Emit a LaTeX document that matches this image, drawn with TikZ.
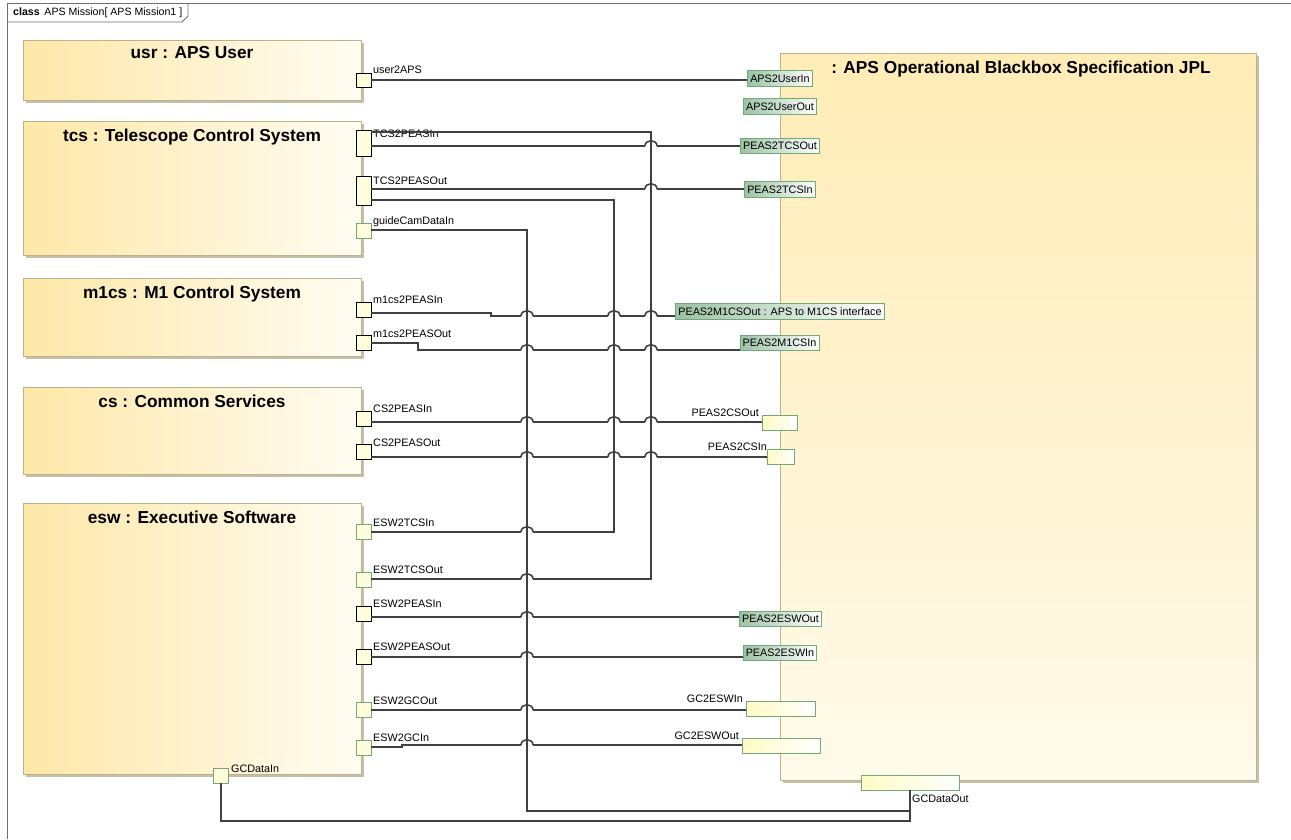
\documentclass[tikz,border=0pt]{standalone}
\usepackage{fontspec}
\setmainfont{Liberation Sans}
\usetikzlibrary{positioning, shadows}
\definecolor{boxyellow}{RGB}{254,232,168}
\definecolor{boxlight}{RGB}{255,252,242}
\definecolor{bbyellow}{RGB}{255,236,182}
\definecolor{bblight}{RGB}{255,250,234}
\definecolor{edgetan}{RGB}{188,178,140}
\definecolor{shadowtan}{RGB}{198,192,170}
\definecolor{portcream}{RGB}{255,253,218}
\definecolor{portyel}{RGB}{255,251,196}
\definecolor{portgreen}{RGB}{112,170,118}
\definecolor{tagfill}{RGB}{156,194,164}
\definecolor{wiregray}{RGB}{64,64,64}
\definecolor{framegray}{RGB}{110,110,110}

\tikzset{
  part/.style={draw=edgetan, line width=0.8pt, left color=boxyellow, right color=boxlight,
    inner sep=0pt, drop shadow={shadow xshift=3pt, shadow yshift=-3pt, fill=shadowtan, opacity=1}},
  parttitle/.style={font=\bfseries\fontsize{17.3}{20}\selectfont, inner sep=0pt},
  flowport/.style={draw=black, line width=0.8pt, fill=portcream, minimum width=15pt,
    minimum height=15pt, inner sep=0pt},
  proxyport/.style={flowport, draw=portgreen},
  boxport/.style={draw=portgreen, line width=0.8pt, left color=portyel, right color=white,
    minimum height=15pt, inner sep=0pt},
  tagport/.style={draw=portgreen, line width=0.8pt, left color=tagfill, right color=white,
    font=\fontsize{10.8}{13}\selectfont, inner xsep=2.5pt, inner ysep=0pt, minimum height=15.5pt},
  portlabel/.style={font=\fontsize{10.8}{13}\selectfont, inner sep=0pt, anchor=base west},
  rportlabel/.style={portlabel, anchor=base east},
  wire/.style={draw=wiregray, line width=1.6pt}
}

\begin{document}
\begin{tikzpicture}[x=1pt, y=-1pt]
  \useasboundingbox (0,0) rectangle (1291,839);
  % diagram frame
  \draw[framegray, line width=0.8pt] (7,839) -- (7,3) -- (1291,3);
  \draw[framegray, line width=0.8pt] (7,22) -- (182,22) -- (188,16) -- (188,3);
  \node[anchor=west, font=\fontsize{10.6}{12}\selectfont, inner sep=0pt] (tab) at (13,12.5)
    {\textbf{class}\, APS Mission[ APS Mission1 ]};

  % parts
  \node[part, minimum width=338pt, minimum height=60pt] (usr) at (192,70) {};
  \node[part, minimum width=338pt, minimum height=134pt] (tcs) at (192,188) {};
  \node[part, minimum width=338pt, minimum height=78pt] (m1cs) at (192,317) {};
  \node[part, minimum width=338pt, minimum height=87pt] (cs) at (192,430.5) {};
  \node[part, minimum width=338pt, minimum height=271pt] (esw) at (192,638.5) {};
  \node[part, top color=bbyellow, bottom color=bblight, minimum width=476pt,
    minimum height=727pt] (aps) at (1018,416.5) {};
  \node[parttitle, below=7pt of usr.north] (usrT) {usr : APS User};
  \node[parttitle, below=8pt of tcs.north] (tcsT) {tcs : Telescope Control System};
  \node[parttitle, below=8pt of m1cs.north] (m1csT) {m1cs : M1 Control System};
  \node[parttitle, below=8pt of cs.north] (csT) {cs : Common Services};
  \node[parttitle, below=8pt of esw.north] (eswT) {esw : Executive Software};
  \node[parttitle, below=8pt of aps.north, xshift=3pt] (apsT) {: APS Operational Blackbox Specification JPL};

  % ports on the left parts
  \node[flowport, minimum height=14pt] (pUser) at (363.5,80) {};
  \node[flowport, minimum height=26pt] (pTcsIn) at (363.5,143) {};
  \node[flowport, minimum height=29pt] (pTcsOut) at (363.5,190.5) {};
  \node[proxyport] (pGuide) at (363.5,231) {};
  \node[flowport] (pM1In) at (363.5,310) {};
  \node[flowport] (pM1Out) at (363.5,342.5) {};
  \node[flowport] (pCsIn) at (363.5,419) {};
  \node[flowport] (pCsOut) at (363.5,452) {};
  \node[proxyport] (pEswTcsIn) at (363.5,531.5) {};
  \node[proxyport] (pEswTcsOut) at (363.5,579.5) {};
  \node[flowport] (pEswPeasIn) at (363.5,613.5) {};
  \node[flowport] (pEswPeasOut) at (363.5,656.5) {};
  \node[proxyport] (pEswGcOut) at (363.5,710) {};
  \node[proxyport] (pEswGcIn) at (363.5,747.5) {};
  \node[proxyport] (pGcIn) at (221,775.5) {};

  \node[portlabel] (lUser) at (373,73) {user2APS};
  \node[portlabel] (lTcsIn) at (373,137) {TCS2PEASIn};
  \node[portlabel] (lTcsOut) at (373,184) {TCS2PEASOut};
  \node[portlabel] (lGuide) at (373,224) {guideCamDataIn};
  \node[portlabel] (lM1In) at (373,303) {m1cs2PEASIn};
  \node[portlabel] (lM1Out) at (373,337) {m1cs2PEASOut};
  \node[portlabel] (lCsIn) at (373,412) {CS2PEASIn};
  \node[portlabel] (lCsOut) at (373,446) {CS2PEASOut};
  \node[portlabel] (lEswTcsIn) at (373,526) {ESW2TCSIn};
  \node[portlabel] (lEswTcsOut) at (373,573) {ESW2TCSOut};
  \node[portlabel] (lEswPeasIn) at (373,607) {ESW2PEASIn};
  \node[portlabel] (lEswPeasOut) at (373,650) {ESW2PEASOut};
  \node[portlabel] (lEswGcOut) at (373,704) {ESW2GCOut};
  \node[portlabel] (lEswGcIn) at (373,741) {ESW2GCIn};
  \node[portlabel] (lGcIn) at (231,772) {GCDataIn};

  % ports on the blackbox
  \node[tagport] (qUserIn) at (780,78.5) {APS2UserIn};
  \node[tagport] (qUserOut) at (780,106.5) {APS2UserOut};
  \node[tagport] (qTcsOut) at (780,146) {PEAS2TCSOut};
  \node[tagport] (qTcsIn) at (780,189.5) {PEAS2TCSIn};
  \node[tagport] (qM1Out) at (780,311.5) {PEAS2M1CSOut : APS to M1CS interface};
  \node[tagport] (qM1In) at (779.5,343) {PEAS2M1CSIn};
  \node[boxport, minimum width=35pt] (qCsOut) at (779.5,423) {};
  \node[boxport, minimum width=27pt] (qCsIn) at (780.5,456.5) {};
  \node[tagport] (qEswOut) at (780.5,619) {PEAS2ESWOut};
  \node[tagport] (qEswIn) at (780,653) {PEAS2ESWIn};
  \node[boxport, minimum width=69pt] (qGcEswIn) at (780.5,709) {};
  \node[boxport, minimum width=78pt] (qGcEswOut) at (781,745.5) {};
  \node[boxport, minimum width=98pt] (qGcOut) at (910,782.5) {};

  \node[rportlabel] (lCsOutR) at (759,416) {PEAS2CSOut};
  \node[rportlabel] (lCsInR) at (767,450) {PEAS2CSIn};
  \node[rportlabel] (lGcEswIn) at (743,702) {GC2ESWIn};
  \node[rportlabel] (lGcEswOut) at (739,739) {GC2ESWOut};
  \node[portlabel] (lGcOut) at (912,802) {GCDataOut};

  % connectors
  \draw[wire] (pUser.east) -- (pUser.east -| qUserIn.west);
  \draw[wire] (pTcsIn.east |- 0,146) -- (qTcsOut.west |- 0,146);
  \draw[wire] (pTcsIn.east |- 0,132) -- (651,132) -- (651,579) -- (pEswTcsOut.east |- 0,579);
  \draw[wire] (pTcsOut.east |- 0,189) -- (qTcsIn.west |- 0,189);
  \draw[wire] (pTcsOut.east |- 0,200) -- (614,200) -- (614,532) -- (pEswTcsIn.east |- 0,532);
  \draw[wire] (pGuide.east |- 0,230) -| (527,811) -| (qGcOut.south);
  \draw[wire] (pGcIn.south) |- (qGcOut.south |- 0,821) -- (qGcOut.south);
  \draw[wire] (pM1In.east |- 0,313) -- (491,313) -- (491,316) -- (qM1Out.west |- 0,316);
  \draw[wire] (pM1Out.east |- 0,343) -- (418,343) -- (418,350) -- (qM1In.west |- 0,350);
  \draw[wire] (pCsIn.east |- 0,422) -- (qCsOut.west |- 0,422);
  \draw[wire] (pCsOut.east |- 0,457) -- (qCsIn.west |- 0,457);
  \draw[wire] (pEswPeasIn.east |- 0,617) -- (qEswOut.west |- 0,617);
  \draw[wire] (pEswPeasOut.east |- 0,657) -- (qEswIn.west |- 0,657);
  \draw[wire] (pEswGcOut.east) -- (pEswGcOut.east -| qGcEswIn.west);
  \draw[wire] (pEswGcIn.east |- 0,747) -- (402,747) -- (402,745) -- (qGcEswOut.west |- 0,745);

  % line hops where wires cross
  \foreach \hx/\hy in {651/146, 651/189, 651/316, 651/350, 651/422, 651/457,
      614/316, 614/350, 614/422, 614/457,
      527/316, 527/350, 527/422, 527/457, 527/532, 527/579, 527/617, 527/657, 527/710, 527/745} {
    \fill[white] (\hx-6,\hy-2) rectangle (\hx+6,\hy+2);
    \draw[wire] (\hx-6,\hy) .. controls (\hx-6,\hy-7) and (\hx+6,\hy-7) .. (\hx+6,\hy);
    \draw[wire] (\hx,\hy-8) -- (\hx,\hy+3);
  }
\end{tikzpicture}
\end{document}
